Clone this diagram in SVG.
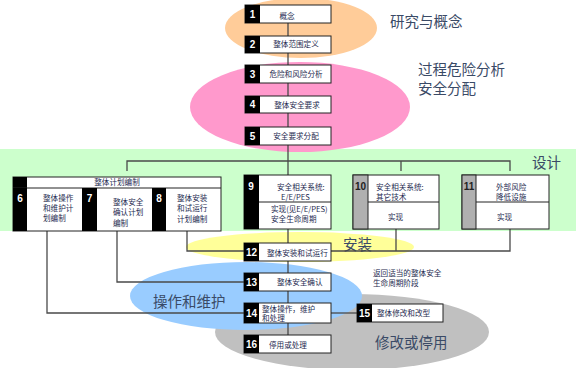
<svg xmlns="http://www.w3.org/2000/svg" width="576" height="368" viewBox="0 0 576 368">
<style>
.bx{fill:#fff;stroke:#222;stroke-width:1}
.bk{fill:#000}
.gy{fill:#b0b0b0;stroke:#222;stroke-width:1}
.ln{fill:none;stroke:#4a4a4a;stroke-width:1.3}
.t{font-family:"Noto Sans CJK SC","Liberation Sans",sans-serif;font-size:7.6px;fill:#1e2a50}
.n{font-family:"Liberation Sans",sans-serif;font-size:10px;font-weight:bold;fill:#fff;text-anchor:middle}
.nd{font-family:"Liberation Sans",sans-serif;font-size:10px;font-weight:bold;fill:#222;text-anchor:middle}
.big{font-family:"Noto Sans CJK SC",sans-serif;font-size:14.5px;fill:#3a4a66}
.c{text-anchor:middle}
</style>
<rect x="0" y="149" width="576" height="82" fill="#ccffcc"/>
<ellipse cx="301" cy="28" rx="76" ry="30" fill="#ffcc99"/>
<ellipse cx="300" cy="107" rx="110" ry="45" fill="#ff99cc"/>
<ellipse cx="300" cy="247" rx="114" ry="15" fill="#ffff99"/>
<ellipse cx="352" cy="332" rx="137" ry="38" fill="#c0c0c0"/>
<ellipse cx="246" cy="296" rx="116" ry="34" fill="#99ccff"/>
<text class="big" x="390" y="27">研究与概念</text>
<text class="big" x="418" y="75">过程危险分析</text>
<text class="big" x="418" y="94">安全分配</text>
<text class="big" x="532" y="168">设计</text>
<text class="big" x="343" y="250">安装</text>
<text class="big" x="153" y="307">操作和维护</text>
<text class="big" x="375" y="348">修改或停用</text>
<g id="connectors">
<path class="ln" d="M288 23V36M288 53V65M288 83V96M288 113V127M288 145V175"/>
<path class="ln" d="M127 171V161H510V171M401 161V171"/>
<path class="ln" d="M288 229V243M288 261V273M288 291V303M288 323V335"/>
<path class="ln" d="M187 231V251H244M117 231V282H244M47 231V313H244"/>
<path class="ln" d="M331 251H510V229M396 229V251"/>
<path class="ln" d="M331 313H357"/>
</g>
<g id="n1"><rect class="bx" x="245" y="5" width="86" height="18"/><rect class="bk" x="245" y="5" width="15" height="18"/><text class="n" x="252.5" y="18">1</text><text class="t c" x="287" y="19">概念</text></g>
<g id="n2"><rect class="bx" x="245" y="36" width="86" height="17"/><rect class="bk" x="245" y="36" width="15" height="17"/><text class="n" x="252.5" y="48">2</text><text class="t c" x="296" y="47">整体范围定义</text></g>
<g id="n3"><rect class="bx" x="245" y="65" width="86" height="18"/><rect class="bk" x="245" y="65" width="15" height="18"/><text class="n" x="252.5" y="78">3</text><text class="t c" x="296" y="77">危险和风险分析</text></g>
<g id="n4"><rect class="bx" x="245" y="96" width="86" height="17"/><rect class="bk" x="245" y="96" width="15" height="17"/><text class="n" x="252.5" y="108">4</text><text class="t c" x="297" y="108">整体安全要求</text></g>
<g id="n5"><rect class="bx" x="245" y="127" width="86" height="18"/><rect class="bk" x="245" y="127" width="15" height="18"/><text class="n" x="252.5" y="140">5</text><text class="t c" x="296" y="139">安全要求分配</text></g>
<g id="n6-8">
<rect class="bx" x="13" y="177" width="208" height="54"/>
<rect class="bk" x="13" y="177" width="14" height="11"/>
<line x1="13" y1="188" x2="221" y2="188" stroke="#222"/>
<text class="t c" x="117" y="185">整体计划编制</text>
<rect class="bk" x="13" y="188" width="14" height="43"/>
<rect class="bk" x="82" y="188" width="15" height="43"/>
<rect class="bk" x="152" y="188" width="14" height="43"/>
<text class="n" x="20" y="202">6</text>
<text class="n" x="89.5" y="202">7</text>
<text class="n" x="159" y="202">8</text>
<text class="t" x="43" y="201">整体操作</text><text class="t" x="43" y="211">和维护计</text><text class="t" x="43" y="221">划编制</text>
<text class="t" x="113" y="205">整体安全</text><text class="t" x="113" y="215">确认计划</text><text class="t" x="113" y="226">编制</text>
<text class="t" x="177" y="201">整体安装</text><text class="t" x="177" y="211">和试运行</text><text class="t" x="177" y="222">计划编制</text>
</g>
<g id="n9"><rect class="bx" x="244" y="175" width="87" height="54"/><rect class="bk" x="244" y="175" width="15" height="54"/><line x1="259" y1="202" x2="331" y2="202" stroke="#222"/><text class="n" x="251" y="190">9</text>
<text class="t" x="277" y="190">安全相关系统:</text><text class="t" x="281" y="200">E/E/PES</text><text class="t" x="271" y="212">实现(见E/E/PES)</text><text class="t" x="271" y="222">安全生命周期</text></g>
<g id="n10"><rect class="bx" x="353" y="175" width="86" height="54"/><rect class="gy" x="353" y="175" width="15" height="54"/><line x1="368" y1="202" x2="439" y2="202" stroke="#222"/><text class="nd" x="360.5" y="190">10</text>
<text class="t" x="376" y="190">安全相关系统:</text><text class="t" x="376" y="200">其它技术</text><text class="t" x="388" y="220">实现</text></g>
<g id="n11"><rect class="bx" x="462" y="175" width="87" height="54"/><rect class="gy" x="462" y="175" width="14" height="54"/><line x1="476" y1="202" x2="549" y2="202" stroke="#222"/><text class="nd" x="469" y="190">11</text>
<text class="t" x="496" y="190">外部风险</text><text class="t" x="496" y="200">降低设施</text><text class="t" x="497" y="220">实现</text></g>
<g id="n12"><rect class="bx" x="244" y="243" width="87" height="18"/><rect class="bk" x="244" y="243" width="15" height="18"/><text class="n" x="251.5" y="256">12</text><text class="t" x="267" y="256">整体安装和试运行</text></g>
<g id="n13"><rect class="bx" x="244" y="273" width="87" height="18"/><rect class="bk" x="244" y="273" width="15" height="18"/><text class="n" x="251.5" y="286">13</text><text class="t" x="277" y="285">整体安全确认</text></g>
<g id="n14"><rect class="bx" x="244" y="303" width="87" height="20"/><rect class="bk" x="244" y="303" width="15" height="20"/><text class="n" x="251.5" y="317">14</text><text class="t" x="262" y="311.5">整体操作，维护</text><text class="t" x="262" y="321">和处理</text></g>
<g id="n15"><rect class="bx" x="357" y="304" width="86" height="18"/><rect class="bk" x="357" y="304" width="15" height="18"/><text class="n" x="364.5" y="317">15</text><text class="t" x="377" y="316">整体修改和改型</text></g>
<g id="n16"><rect class="bx" x="244" y="335" width="87" height="18"/><rect class="bk" x="244" y="335" width="15" height="18"/><text class="n" x="251.5" y="348">16</text><text class="t" x="269" y="348">停用或处理</text></g>
<text class="t" x="373" y="276">返回适当的整体安全</text>
<text class="t" x="373" y="286">生命周期阶段</text>
</svg>
